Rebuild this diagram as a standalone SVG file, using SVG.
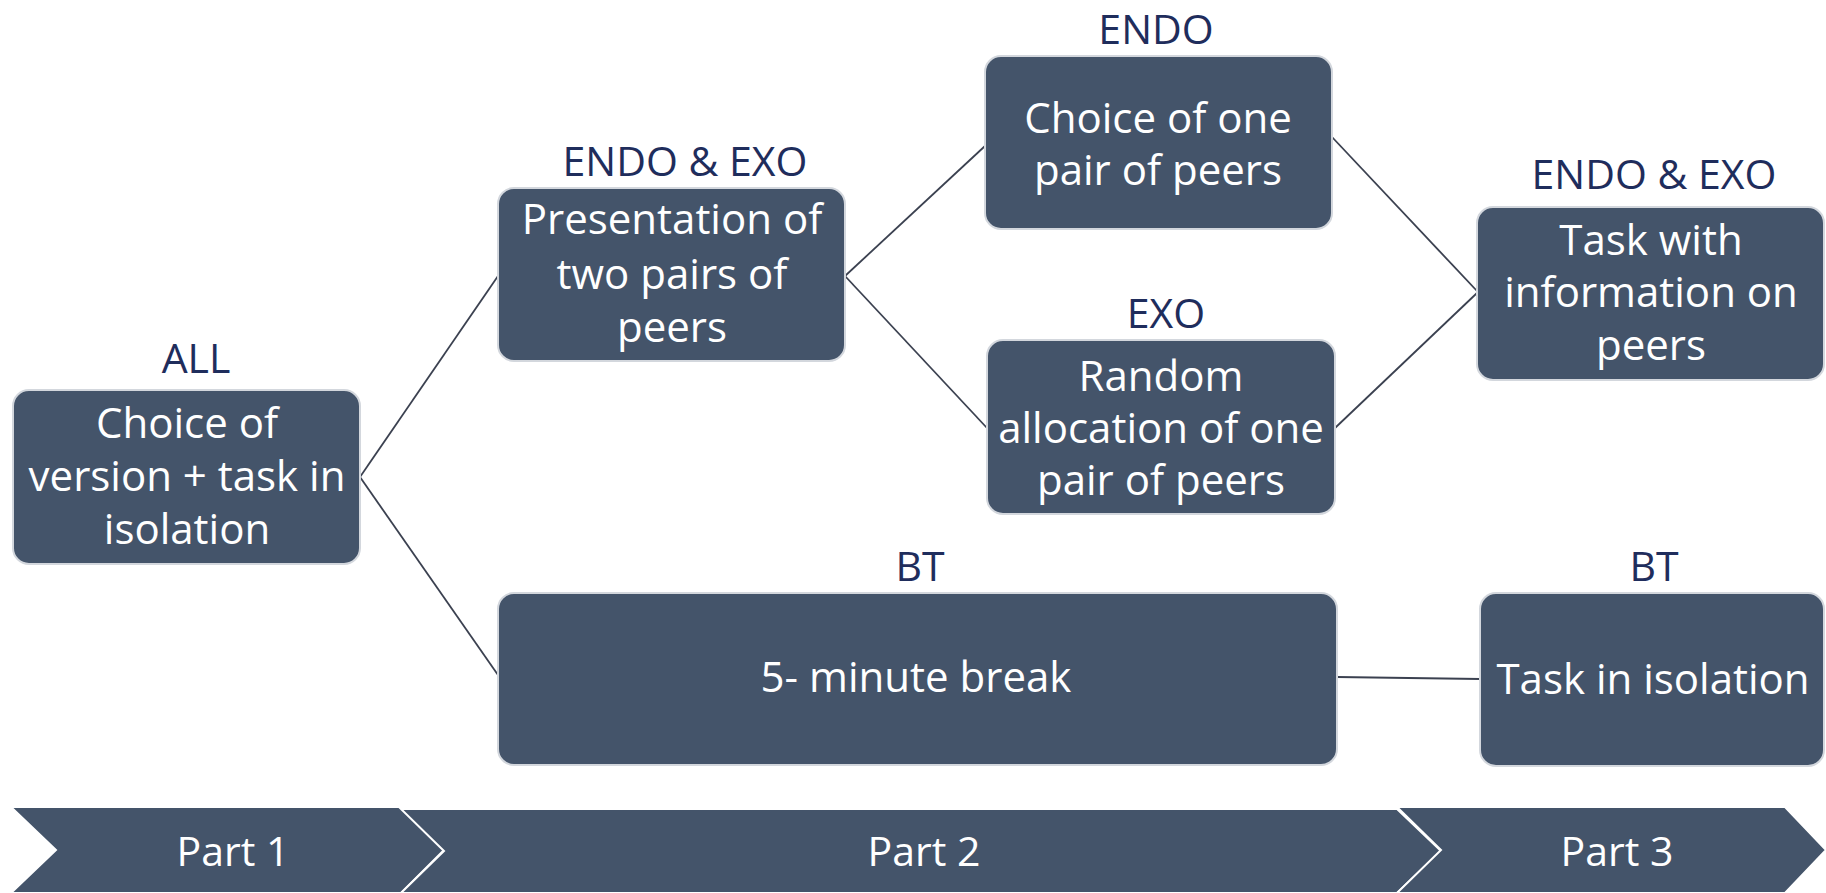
<svg xmlns="http://www.w3.org/2000/svg" width="1826" height="893" viewBox="0 0 1826 893">
<style>
.box{fill:#44546a;stroke:#d3d7dd;stroke-width:2}
.t{font-family:"Open Sans","Liberation Sans",sans-serif;font-size:42px;fill:#ffffff;text-anchor:middle}
.lbl{font-family:"Open Sans","Liberation Sans",sans-serif;font-size:41px;fill:#1f2d5c;text-anchor:middle}
.p{font-family:"Open Sans","Liberation Sans",sans-serif;font-size:41px;fill:#ffffff;text-anchor:middle}
.c{stroke:#3b4150;stroke-width:1.8;fill:none}
.chev{fill:#44546a;stroke:#ffffff;stroke-width:2}
</style>
<rect width="1826" height="893" fill="#ffffff"/>
<g id="connectors">
<line class="c" x1="360" y1="477" x2="498" y2="276"/>
<line class="c" x1="360" y1="477" x2="498" y2="675"/>
<line class="c" x1="845" y1="276" x2="985" y2="146"/>
<line class="c" x1="845" y1="276" x2="987" y2="428"/>
<line class="c" x1="1332" y1="137" x2="1477" y2="291"/>
<line class="c" x1="1335" y1="428" x2="1477" y2="293"/>
<line class="c" x1="1337" y1="677" x2="1480" y2="679"/>
</g>
<g id="node-all">
<text class="lbl" x="196" y="373">ALL</text>
<rect class="box" x="13" y="390" width="347" height="174" rx="16"/>
<text class="t" x="187" y="438">Choice of</text>
<text class="t" x="187" y="491">version + task in</text>
<text class="t" x="187" y="544">isolation</text>
</g>
<g id="node-presentation">
<text class="lbl" x="685" y="176">ENDO &amp; EXO</text>
<rect class="box" x="498" y="188" width="347" height="173" rx="16"/>
<text class="t" x="672" y="234">Presentation of</text>
<text class="t" x="672" y="289">two pairs of</text>
<text class="t" x="672" y="342">peers</text>
</g>
<g id="node-choice-one">
<text class="lbl" x="1156" y="44">ENDO</text>
<rect class="box" x="985" y="56" width="347" height="173" rx="16"/>
<text class="t" x="1158" y="133">Choice of one</text>
<text class="t" x="1158" y="185">pair of peers</text>
</g>
<g id="node-random">
<text class="lbl" x="1166" y="328">EXO</text>
<rect class="box" x="987" y="340" width="348" height="174" rx="16"/>
<text class="t" x="1161" y="391">Random</text>
<text class="t" x="1161" y="443">allocation of one</text>
<text class="t" x="1161" y="495">pair of peers</text>
</g>
<g id="node-task-info">
<text class="lbl" x="1654" y="189">ENDO &amp; EXO</text>
<rect class="box" x="1477" y="207" width="347" height="173" rx="16"/>
<text class="t" x="1651" y="255">Task with</text>
<text class="t" x="1651" y="307">information on</text>
<text class="t" x="1651" y="360">peers</text>
</g>
<g id="node-break">
<text class="lbl" x="920" y="581">BT</text>
<rect class="box" x="498" y="593" width="839" height="172" rx="16"/>
<text class="t" x="916" y="692">5- minute break</text>
</g>
<g id="node-task-isolation">
<text class="lbl" x="1654" y="581">BT</text>
<rect class="box" x="1480" y="593" width="344" height="173" rx="16"/>
<text class="t" x="1653" y="694">Task in isolation</text>
</g>
<g id="timeline">
<polygon class="chev" points="11,807 401,807 444,850 401,893 11,893 56,850"/>
<polygon class="chev" points="401,809 1397,809 1441,851 1397,893 401,893 444,851"/>
<polygon class="chev" points="1397,807 1785,807 1826,850 1785,893 1397,893 1441,850"/>
<text class="p" x="233" y="866">Part 1</text>
<text class="p" x="924" y="866">Part 2</text>
<text class="p" x="1617" y="866">Part 3</text>
</g>
</svg>
